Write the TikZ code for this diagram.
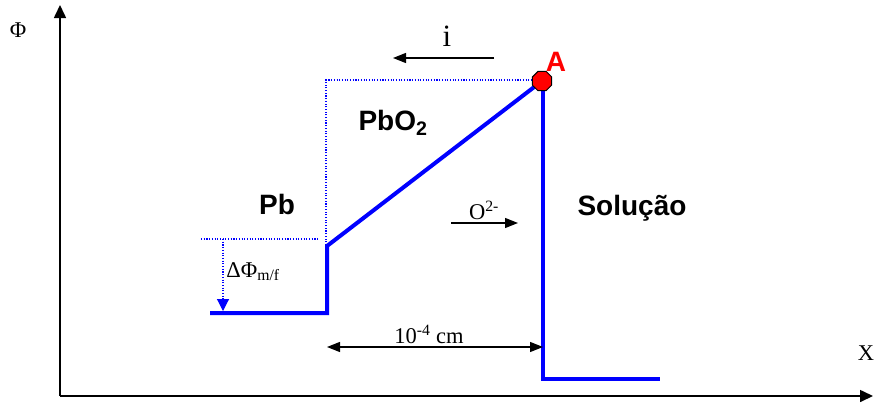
\documentclass[tikz,border=0pt]{standalone}
\usepackage{fontspec}
\setmainfont{Liberation Serif}
\newfontfamily\arialf{Liberation Sans}
\usetikzlibrary{arrows.meta,shapes.geometric}
\begin{document}
\begin{tikzpicture}[x=1pt,y=-1pt,
  axis/.style={line width=1.6pt,-{Triangle[length=13pt,width=12pt]}},
  thinarrow/.style={line width=1.3pt,-{Triangle[length=13pt,width=10pt]}},
  dimarrow/.style={line width=1.3pt,{Triangle[length=13pt,width=10pt]}-{Triangle[length=13pt,width=10pt]}},
  curve/.style={draw=blue,line width=4pt,line join=miter},
  guide/.style={draw=blue,line width=1.1pt,dash pattern=on 1.1pt off 1.6pt},
  lbl/.style={inner sep=0pt,anchor=base,font=\fontsize{22.5}{25}\selectfont},
  blbl/.style={inner sep=0pt,anchor=base,font=\arialf\bfseries\fontsize{28}{30}\selectfont},
  octo/.style={regular polygon,regular polygon sides=8,draw=black,line width=1pt,fill=red,minimum size=21pt,inner sep=0pt}]
\useasboundingbox (0,0) rectangle (874,402);
% axes
\coordinate (O) at (60,396);
\coordinate (ytop) at (60,5);
\coordinate (xend) at (873,396);
\draw[axis] (O) -- (ytop);
\draw[axis] (O) -- (xend);
\node[lbl] (phi) at (18,37) {Φ};
\node[lbl] (xl) at (866,360) {X};
% curve corners
\coordinate (c1) at (210,313);
\coordinate (c2) at (327,313);
\coordinate (c3) at (327,246);
\coordinate (c4) at (542,81);
\coordinate (c5) at (543,379);
\coordinate (c6) at (660,379);
% dotted guides
\coordinate (g1) at (326,80);
\coordinate (g2) at (542,80);
\coordinate (g3) at (326,245);
\coordinate (h1) at (201,239);
\coordinate (h2) at (318,239);
\coordinate (d1) at (223,239);
\coordinate (d2) at (223,311);
\draw[guide] (g3) -- (g1) -- (g2);
\draw[guide] (h1) -- (h2);
\draw[guide,-{Triangle[length=12pt,width=12pt]}] (d1) -- (d2);
\draw[curve] (c1) -- (c2) -- (c3) -- (c4);
\draw[curve] (543,81) -- (c5) -- (c6);
\node[octo] (A) at (542,81) {};
\node[blbl,text=red] (Alab) at (556,71) {A};
% labels
\node[blbl] (pbo2) at (393,130) {PbO\textsubscript{2}};
\node[blbl] (pb) at (277,214) {Pb};
\node[blbl] (sol) at (632,215) {Solução};
\node[lbl] (dphi) at (253,277) {ΔΦ\textsubscript{m/f}};
% current arrow
\coordinate (i1) at (494,58);
\coordinate (i2) at (393,58);
\draw[thinarrow] (i1) -- (i2);
\node[lbl,font=\fontsize{31}{33}\selectfont] (ilab) at (447,46) {i};
% O2- arrow
\coordinate (o1) at (451,223);
\coordinate (o2) at (518,223);
\draw[thinarrow] (o1) -- (o2);
\node[lbl] (olab) at (484,219) {O\textsuperscript{2-}};
% dimension
\coordinate (m1) at (327,347);
\coordinate (m2) at (543,347);
\draw[dimarrow] (m1) -- (m2);
\node[lbl] (mlab) at (429,343) {10\textsuperscript{-4} cm};
\end{tikzpicture}
\end{document}
